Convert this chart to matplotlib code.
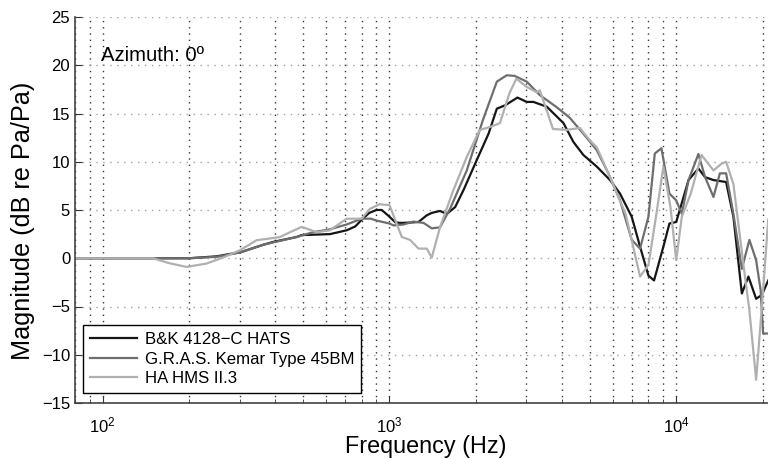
import matplotlib
matplotlib.use("Agg")
import matplotlib.pyplot as plt
from matplotlib.ticker import LogLocator, NullFormatter

plt.rcParams['font.family'] = ['Liberation Sans', 'DejaVu Sans']

# B&K 4128-C HATS
bk_freq = [80, 100, 150, 200, 250, 278, 301, 363, 394, 474, 494, 620, 709, 760, 800,
           850, 900, 940, 1000, 1050, 1104, 1180, 1262, 1349, 1404, 1500, 1585, 1694,
           1811, 2017, 2215, 2368, 2531, 2794, 3012, 3177, 3538, 4045, 4380, 4745,
           5283, 5879, 6368, 6996, 7480, 8000, 8370, 9020, 9470, 10000, 11040, 11950,
           12610, 13490, 14930, 15830, 16940, 17860, 19000, 19890, 20940]
bk_db = [0, 0, 0, 0, 0.2, 0.45, 0.6, 1.4, 1.7, 2.2, 2.4, 2.5, 2.9, 3.3, 4.0,
         4.7, 5.0, 5.0, 4.3, 3.7, 3.66, 3.7, 3.76, 4.45, 4.7, 4.9, 4.6, 5.3,
         7.05, 10.2, 12.9, 15.5, 15.85, 16.65, 16.2, 16.2, 15.7, 14.0, 12.05, 10.7,
         9.5, 8.1, 6.7, 4.3, 1.2, -1.8, -2.3, 1.2, 3.6, 3.76, 8.1, 9.3,
         8.4, 8.1, 7.9, 4.3, -3.65, -1.9, -4.2, -3.8, -2.3]

# G.R.A.S. Kemar Type 45BM
km_freq = [80, 150, 200, 250, 301, 363, 474, 542, 620, 672, 709, 800, 860, 903, 1000,
           1033, 1120, 1211, 1315, 1404, 1500, 1625, 1860, 2116, 2368, 2563, 2730,
           3012, 3345, 3810, 4240, 4745, 5283, 5800, 6368, 6996, 7480, 8000, 8420,
           8880, 9470, 10000, 10460, 11040, 11950, 12610, 13490, 14200, 14930, 15830,
           16940, 18000, 19000, 19700, 20100, 20940]
km_db = [0, 0, 0, 0.15, 0.6, 1.4, 2.2, 2.7, 3.0, 3.3, 3.5, 4.1, 4.1, 3.9, 3.6,
         3.4, 3.5, 3.8, 3.66, 3.1, 3.2, 5.1, 9.1, 14.3, 18.3, 18.96, 18.9,
         18.3, 16.9, 15.7, 14.6, 12.9, 11.2, 8.8, 6.0, 1.9, 1.0, 4.3, 10.85,
         11.4, 6.7, 6.0, 4.6, 8.1, 10.8, 8.4, 6.35, 8.8, 8.8, 4.6,
         -1.1, 1.9, -0.2, -3.3, -7.8, -7.8]

# HA HMS II.3
ha_freq = [80, 150, 170, 196, 230, 264, 301, 344, 394, 415, 450, 494, 557, 620, 709,
           800, 853, 923, 1000, 1104, 1180, 1262, 1349, 1404, 1500, 1670, 1860, 2065,
           2240, 2428, 2620, 2770, 3012, 3267, 3345, 3716, 4140, 4615, 5000, 5283,
           5879, 6660, 7480, 8000, 8530, 9020, 9550, 10000, 10460, 11240, 12250,
           13490, 14400, 14930, 15830, 17200, 18000, 19000, 19900, 20940]
ha_db = [0, 0, -0.5, -0.9, -0.55, 0.1, 0.83, 1.87, 2.1, 2.2, 2.7, 3.25, 2.7, 2.9, 4.1,
         4.1, 5.1, 5.6, 5.5, 2.2, 1.9, 1.0, 1.0, 0.07, 3.2, 7.05, 10.5, 13.3,
         13.6, 14.0, 17.1, 18.6, 17.75, 17.2, 17.4, 13.4, 13.3, 13.5, 12.2, 11.5,
         8.4, 4.6, -1.9, -0.7, 4.6, 9.5, 5.3, -0.2, 4.3, 6.7, 10.7,
         9.1, 9.8, 10.0, 7.7, -0.9, -5.4, -12.6, -5.0, 4.0]

labels = ['B&K 4128\u2212C HATS', 'G.R.A.S. Kemar Type 45BM', 'HA HMS II.3']
colors = ['#151515', '#6e6e6e', '#b0b0b0']

fig = plt.figure(figsize=(7.68, 4.59), dpi=100)
ax = fig.add_axes([75 / 768, 56 / 459, 693 / 768, 386 / 459])

for f, v, lab, c in zip([bk_freq, km_freq, ha_freq], [bk_db, km_db, ha_db], labels, colors):
    ax.plot(f, v, color=c, lw=1.6, label=lab)

ax.set_xscale('log')
ax.set_xlim(80, 20900)
ax.set_ylim(-15, 25)
ax.set_yticks(range(-15, 26, 5))
ax.set_yticklabels([str(t).replace('-', '\u2212') for t in range(-15, 26, 5)])
ax.xaxis.set_minor_locator(LogLocator(base=10, subs=range(2, 10), numticks=20))
ax.xaxis.set_minor_formatter(NullFormatter())

ax.grid(True, which='major', axis='y', linestyle=(0, (1, 4)), color='#a0a0a0', lw=1.0)
ax.grid(True, which='both', axis='x', linestyle=(0, (1, 3.5)), color='#333333', lw=1.0)
ax.tick_params(which='both', direction='in', labelsize=12, color='#333333')
ax.tick_params(axis='x', pad=9)
ax.tick_params(which='major', length=5)
ax.tick_params(which='minor', length=3)

for s in ['top', 'right']:
    ax.spines[s].set_visible(False)
for s in ['left', 'bottom']:
    ax.spines[s].set_color('#444444')
    ax.spines[s].set_linewidth(1.2)

# axis labels placed by pixel position to follow the reference
fig.text(426 / 768, 1 - 447 / 459, 'Frequency (Hz)', fontsize=16.8, ha='center', va='center')
fig.text(23 / 768, 1 - 221 / 459, 'Magnitude (dB re Pa/Pa)', fontsize=18.2,
         rotation=90, ha='center', va='center')
ax.text(0.038, 0.9, 'Azimuth: 0\u00ba', transform=ax.transAxes, fontsize=14.6, va='center')

leg = ax.legend(loc='lower left', bbox_to_anchor=(8 / 693, 10 / 386), borderaxespad=0,
                fontsize=12.1, fancybox=False, framealpha=1, edgecolor='black',
                handlelength=2.8, labelspacing=0.28, borderpad=0.4, handletextpad=0.48)
leg.get_frame().set_linewidth(1.0)

fig.savefig('out.png', dpi=100)
